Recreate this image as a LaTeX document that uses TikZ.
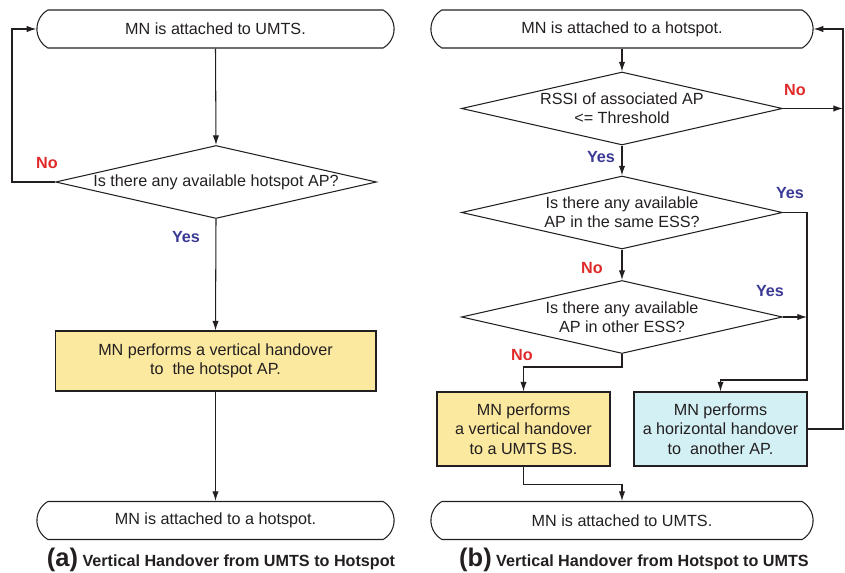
\documentclass[tikz,border=0pt]{standalone}
\usepackage{fontspec}
\setmainfont{Liberation Sans}
\usetikzlibrary{shapes.geometric, shapes.misc, arrows.meta}
\definecolor{hoyellow}{HTML}{FBE9A0}
\definecolor{hocyan}{HTML}{D3F0F5}
\definecolor{hored}{HTML}{E02A2A}
\definecolor{hoblue}{HTML}{3A3A96}
\definecolor{holine}{HTML}{231F20}

\begin{document}
\begin{tikzpicture}[x=0.02cm, y=-0.02cm, line width=0.6pt, draw=holine,
	every node/.style={font=\fontsize{9.2}{11}\selectfont, align=center, text=holine},
	term/.style={rounded rectangle, rounded rectangle arc length=120, draw, minimum height=0.76cm},
	dec/.style={diamond, draw, aspect=4.4, inner sep=0pt, minimum width=6.42cm, minimum height=1.46cm},
	proc/.style={rectangle, draw, minimum width=3.46cm, minimum height=1.48cm},
	arr/.style={-{Latex[length=5.5pt, width=3.6pt]}},
	yes/.style={font=\fontsize{9.2}{11}\selectfont\bfseries, text=hoblue},
	no/.style={font=\fontsize{9.2}{11}\selectfont\bfseries, text=hored},
	capt/.style={anchor=base, font=\fontsize{9.2}{11}\selectfont\bfseries}]
	\useasboundingbox (0,0) rectangle (845,573);

	% (a) UMTS -> hotspot
	\node[term, minimum width=7.38cm] (t1) at (215.5,29) {MN is attached to UMTS.};
	\node[dec] (d1) at (216,182) {Is there any available hotspot AP?};
	\node[proc, fill=hoyellow, minimum width=6.42cm, minimum height=1.2cm] (b1) at (215.5,361)
		{MN performs a vertical handover\\to\ \ the hotspot AP.};
	\node[term, minimum width=7.38cm] (t2) at (215.5,520.5) {MN is attached to a hotspot.};

	\draw[arr] (t1.south) -- (d1.north);
	\draw[arr] (d1.west) -- ++(-43,0) |- (t1.west);
	\draw[arr] (d1.south) -- (b1.north);
	\draw[arr] (b1.south) -- (t2.north);
	\node[no] (n1) at (47,163) {No};
	\node[yes] (y1) at (186,237) {Yes};

	\node[capt] (ca) at (221,567) {{\fontsize{14.5}{16}\selectfont(a)} Vertical Handover from UMTS to Hotspot};

	% (b) hotspot -> UMTS
	\node[term, minimum width=7.88cm] (t3) at (622,29) {MN is attached to a hotspot.};
	\node[dec] (d2) at (622,108.5) {RSSI of associated AP\\<= Threshold};
	\node[dec] (d3) at (622,212.5) {Is there any available\\AP in the same ESS?};
	\node[dec] (d4) at (622,317) {Is there any available\\AP in other ESS?};
	\node[proc, fill=hoyellow] (b2) at (523.5,429) {MN performs\\a vertical handover\\to a UMTS BS.};
	\node[proc, fill=hocyan] (b3) at (720.5,429) {MN performs\\a horizontal handover\\to\ \ another AP.};
	\node[term, minimum width=7.88cm] (t4) at (622,520.5) {MN is attached to UMTS.};

	\coordinate (back) at (843,108.5);
	\coordinate (bend) at (807,380);

	\draw[arr] (t3.south) -- (d2.north);
	\draw[arr] (d2.east) -- (back);
	\draw[arr] (d2.south) -- (d3.north);
	\draw[arr] (d3.east) -| (bend) -| (b3.north);
	\draw[arr] (d3.south) -- (d4.north);
	\draw[arr] (d4.east) -- (d4.east -| bend);
	\draw[arr] (d4.south) -- ++(0,13) -| (b2.north);
	\draw[arr] (b3.east) -| (back) |- (t3.east);
	\draw[arr] (b2.south) -- ++(0,18) -| (t4.north);

	\node[no] (n2) at (795,90) {No};
	\node[yes] (y2) at (601,157) {Yes};
	\node[yes] (y3) at (790,193) {Yes};
	\node[no] (n3) at (592,268) {No};
	\node[yes] (y4) at (770,291) {Yes};
	\node[no] (n4) at (522,355) {No};

	\node[capt] (cb) at (634,567) {{\fontsize{14.5}{16}\selectfont(b)} Vertical Handover from Hotspot to UMTS};
\end{tikzpicture}
\end{document}
